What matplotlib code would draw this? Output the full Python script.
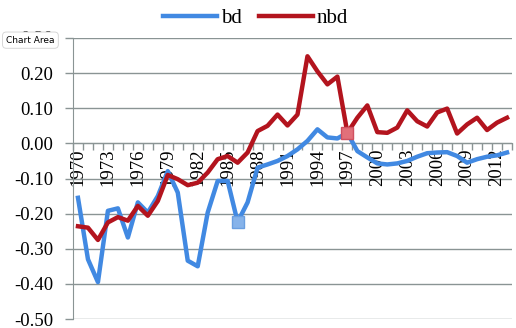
import numpy as np
import matplotlib.pyplot as plt

# years 1970-2013
years = list(range(1970, 2014))

bd = [-0.155, -0.33, -0.395, -0.192, -0.185, -0.268, -0.168, -0.197, -0.15, -0.079,
      -0.14, -0.334, -0.35, -0.197, -0.107, -0.107, -0.224, -0.168, -0.069, -0.06,
      -0.05, -0.036, -0.017, 0.007, 0.04, 0.017, 0.014, 0.03, -0.022, -0.04,
      -0.057, -0.06, -0.057, -0.05, -0.038, -0.028, -0.026, -0.025, -0.036, -0.055,
      -0.045, -0.038, -0.034, -0.026]

nbd = [-0.236, -0.24, -0.275, -0.225, -0.21, -0.22, -0.178, -0.206, -0.164, -0.09,
       -0.102, -0.119, -0.112, -0.083, -0.045, -0.036, -0.055, -0.026, 0.035, 0.05,
       0.082, 0.051, 0.082, 0.248, 0.205, 0.168, 0.19, 0.03, 0.073, 0.108,
       0.032, 0.03, 0.045, 0.094, 0.063, 0.048, 0.088, 0.099, 0.028, 0.054,
       0.073, 0.038, 0.059, 0.073]

yticks = [-0.5, -0.4, -0.3, -0.2, -0.1, 0.0, 0.1, 0.2, 0.3]

plt.rcParams['font.family'] = ['Liberation Serif', 'DejaVu Serif']

fig = plt.figure(figsize=(5.16, 3.28), dpi=100)
ax = fig.add_axes([73/516, 1-319/328, (512-73)/516, (319-38)/328])

x = np.arange(len(years))
blue = '#4189e2'
red = '#b3141e'
ax.plot(x, bd, color=blue, lw=3.2, label='bd', zorder=3)
ax.plot(x, nbd, color=red, lw=3.2, label='nbd', zorder=4)
# selected points
i86 = years.index(1986)
i97 = years.index(1997)
ax.plot([x[i86]], [bd[i86]], 's', ms=8, color='#86b3ea', mec='#6a9fe0', zorder=5)
ax.plot([x[i97]], [nbd[i97]], 's', ms=8, color='#e2707a', mec='#d05060', zorder=5)

ax.set_xlim(-0.5, len(years) - 0.5)
ax.set_ylim(-0.5, 0.3)

grid_c = '#8a9494'
for v in yticks:
    ax.axhline(v, color=grid_c, lw=1.0, zorder=1)

ax.set_yticks(yticks)
ax.set_yticklabels(['%.2f' % v for v in yticks], fontsize=13.5)
ax.tick_params(axis='y', length=6, color=grid_c, width=1, pad=8)

for s in ['top', 'right']:
    ax.spines[s].set_visible(False)
ax.spines['left'].set_color(grid_c)
ax.spines['bottom'].set_color(grid_c)
ax.spines['bottom'].set_position(('data', 0))

lab_idx = list(range(0, len(years), 3))
ax.set_xticks(lab_idx)
ax.set_xticklabels([str(years[i]) for i in lab_idx], rotation=90, fontsize=13.5, va='top', ha='center')
ax.set_xticks(np.arange(len(years) + 1) - 0.5, minor=True)
ax.tick_params(axis='x', which='major', length=0, pad=4)
ax.tick_params(axis='x', which='minor', length=5, color=grid_c, width=1)

fig.legend(loc='upper center', bbox_to_anchor=(0.495, 1.03), ncol=2, frameon=False,
           fontsize=15, handlelength=2.6, handletextpad=0.2, columnspacing=0.8)

fig.text(0.012, 0.87, 'Chart Area', fontsize=6.5, family='DejaVu Sans',
         bbox=dict(boxstyle='round,pad=0.4', fc='white', ec='#d0d0d0', lw=0.6), zorder=10)

fig.savefig('out.png', dpi=100)
